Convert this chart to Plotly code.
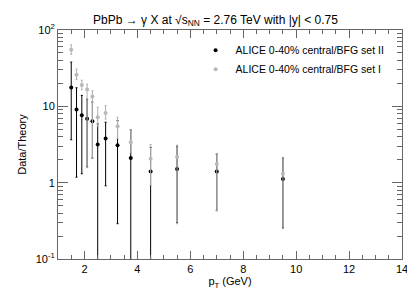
import plotly.graph_objects as go

pt = [1.5, 1.7, 1.9, 2.1, 2.3, 2.5, 2.8, 3.25, 3.75, 4.5, 5.5, 7.0, 9.5]

# ALICE 0-40% central / BFG set II (black)
set2_val = [17.6, 9.1, 7.65, 6.9, 6.4, 3.16, 3.8, 3.1, 2.1, 1.4, 1.51, 1.4, 1.12]
set2_hi = [38.0, 17.5, 13.9, 12.4, 11.4, 5.9, 6.2, 6.5, 4.9, 2.9, 3.0, 2.37, 2.1]
set2_lo = [3.65, 1.18, 1.31, 1.6, 2.1, 0.01, 0.91, 0.29, 0.01, 0.01, 0.3, 0.43, 0.256]

# ALICE 0-40% central / BFG set I (grey)
set1_val = [55.0, 25.9, 19.0, 16.6, 13.5, 7.2, 8.2, 5.5, 3.39, 2.05, 2.17, 1.76, 1.31]
set1_hi = [64.0, 30.7, 22.0, 19.5, 16.0, 9.7, 10.2, 7.2, 4.9, 3.16, 3.1, 2.37, 2.15]
set1_lo = [48.0, 22.4, 16.5, 1.57, 2.1, 5.5, 6.8, 3.8, 2.5, 0.93, 0.29, 0.43, 0.25]

ytick_vals = [0.1, 1, 10, 100]
ytick_text = ["10<sup>-1</sup>", "1", "10", "10<sup>2</sup>"]

def errs(val, hi, lo):
    return [h - v for h, v in zip(hi, val)], [v - l for v, l in zip(val, lo)]

e2p, e2m = errs(set2_val, set2_hi, set2_lo)
e1p, e1m = errs(set1_val, set1_hi, set1_lo)

fig = go.Figure()
fig.add_trace(go.Scatter(
    x=pt, y=set2_val, mode="markers", name="ALICE 0-40% central/BFG set II",
    marker=dict(symbol="circle", size=4, color="black"),
    error_y=dict(type="data", symmetric=False, array=e2p, arrayminus=e2m,
                 color="black", thickness=1, width=1),
))
fig.add_trace(go.Scatter(
    x=pt, y=set1_val, mode="markers", name="ALICE 0-40% central/BFG set I",
    marker=dict(symbol="circle", size=4, color="#b8b8b8"),
    error_y=dict(type="data", symmetric=False, array=e1p, arrayminus=e1m,
                 color="#b0b0b0", thickness=1, width=1),
))

axis_common = dict(
    showline=True, linecolor="#666666", linewidth=1, mirror="ticks",
    ticks="inside", tickcolor="#666666", showgrid=False, zeroline=False,
    tickfont=dict(size=11, color="black"),
)

fig.update_xaxes(
    range=[1, 14], dtick=2, tick0=0, ticklen=8,
    minor=dict(dtick=0.5, tick0=0, ticks="inside", ticklen=4, tickcolor="#666666"),
    title=dict(text="p<sub>T</sub> (GeV)", font=dict(size=11, color="black"), standoff=2),
    **axis_common,
)
fig.update_yaxes(
    type="log", range=[-1, 2], tickvals=ytick_vals, ticktext=ytick_text, ticklen=10,
    minor=dict(dtick="D1", ticks="inside", ticklen=5, tickcolor="#666666"),
    title=dict(text="Data/Theory", font=dict(size=11, color="black"), standoff=6),
    **axis_common,
)

fig.update_layout(
    width=415, height=289,
    margin=dict(l=50, r=21, t=22, b=29),
    paper_bgcolor="white", plot_bgcolor="white",
    font=dict(family="Liberation Sans, Arial, sans-serif", size=11, color="black"),
    title=dict(text="PbPb → γ X at √s<sub>NN</sub> = 2.76 TeV with |y| < 0.75",
               x=0.5, xanchor="center", y=0.975, yanchor="top",
               font=dict(size=12, color="black")),
    legend=dict(x=0.40, y=0.975, xanchor="left", yanchor="top",
                bgcolor="rgba(0,0,0,0)", font=dict(size=10.5, color="black"),
                tracegroupgap=3, itemwidth=30),
    showlegend=True,
)

fig.write_html("out.html")
